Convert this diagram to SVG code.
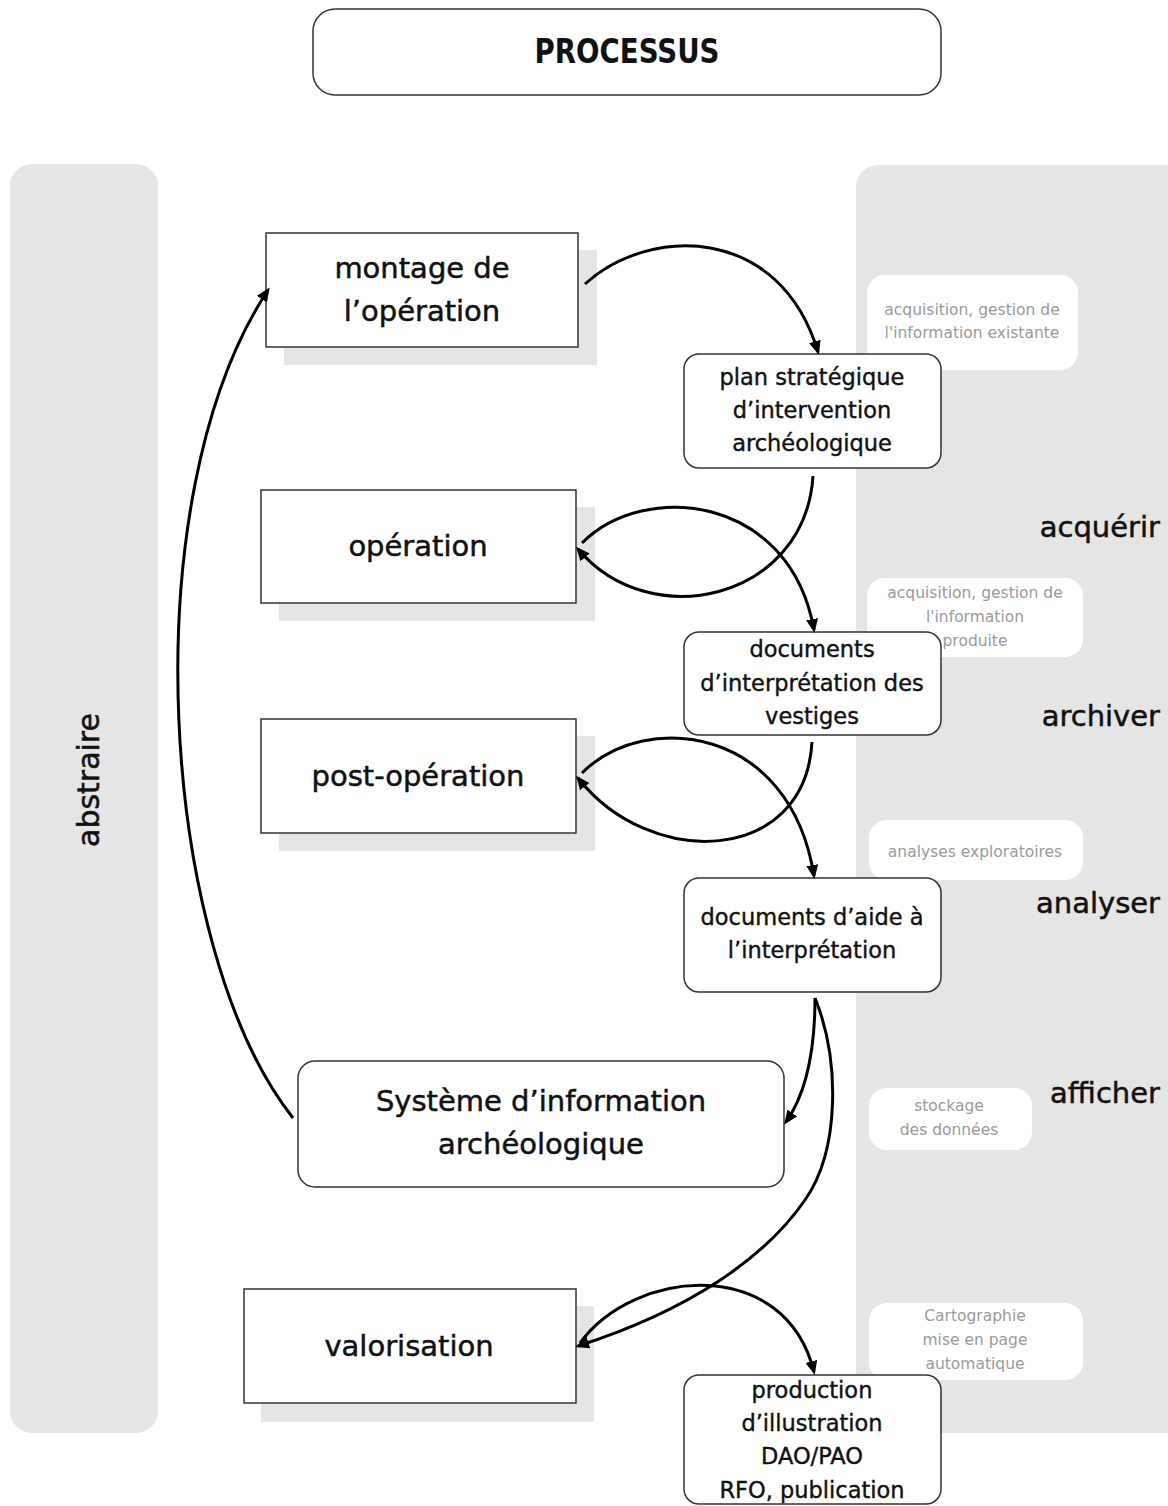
<svg xmlns="http://www.w3.org/2000/svg" width="1168" height="1506" viewBox="0 0 1168 1506">
<style>
text{font-family:"DejaVu Sans","Liberation Sans",sans-serif;fill:#111;}
.panel{fill:#e5e5e5;}
.shadow{fill:#e5e5e5;}
.sq{fill:#fff;stroke:#333;stroke-width:1.5;}
.rd{fill:#fff;stroke:#333;stroke-width:1.5;}
.wb{fill:#fff;}
.big{font-size:29px;text-anchor:middle;stroke:#111;stroke-width:0.5;}
.mid{font-size:22.5px;text-anchor:middle;stroke:#111;stroke-width:0.4;}
.lab{font-size:29px;text-anchor:end;stroke:#111;stroke-width:0.5;}
.sm{font-size:15.5px;text-anchor:middle;fill:#9a9a9a;}
.conn path{fill:none;stroke:#000;stroke-width:3;marker-end:url(#ah);}
</style>
<defs>
<marker id="ah" markerWidth="15" markerHeight="12" refX="11" refY="6" orient="auto" markerUnits="userSpaceOnUse">
<path d="M0,0 L14,6 L0,12 Z" fill="#000"/>
</marker>
</defs>
<rect width="1168" height="1506" fill="#fff"/>

<g id="title">
<rect x="313" y="9" width="628" height="86" rx="22" fill="#fff" stroke="#333" stroke-width="1.5"/>
<text x="627" y="63" font-size="33" font-weight="bold" text-anchor="middle" textLength="185" lengthAdjust="spacingAndGlyphs">PROCESSUS</text>
</g>

<g id="abstraire">
<rect class="panel" x="10" y="164" width="148" height="1269" rx="22"/>
<text transform="translate(99,780) rotate(-90)" font-size="30" text-anchor="middle" stroke="#111" stroke-width="0.5">abstraire</text>
</g>

<g id="rightpanel">
<rect class="panel" x="856" y="165" width="330" height="1268" rx="22"/>
<text class="lab" x="1160" y="537">acquérir</text>
<text class="lab" x="1160" y="726">archiver</text>
<text class="lab" x="1160" y="913">analyser</text>
<text class="lab" x="1160" y="1103">afficher</text>
</g>

<g id="note-existante">
<rect class="wb" x="867" y="275" width="211" height="95" rx="18"/>
<text class="sm" x="972" y="315">acquisition, gestion de</text>
<text class="sm" x="972" y="338">l'information existante</text>
</g>
<g id="note-produite">
<rect class="wb" x="867" y="578" width="216" height="79" rx="18"/>
<text class="sm" x="975" y="598">acquisition, gestion de</text>
<text class="sm" x="975" y="622">l'information</text>
<text class="sm" x="975" y="646">produite</text>
</g>
<g id="note-analyses">
<rect class="wb" x="869" y="820" width="214" height="60" rx="18"/>
<text class="sm" x="975" y="857">analyses exploratoires</text>
</g>
<g id="note-stockage">
<rect class="wb" x="869" y="1088" width="163" height="62" rx="18"/>
<text class="sm" x="949" y="1111">stockage</text>
<text class="sm" x="949" y="1135">des données</text>
</g>
<g id="note-cartographie">
<rect class="wb" x="869" y="1303" width="214" height="77" rx="18"/>
<text class="sm" x="975" y="1321">Cartographie</text>
<text class="sm" x="975" y="1345">mise en page</text>
<text class="sm" x="975" y="1369">automatique</text>
</g>

<g id="montage">
<rect class="shadow" x="284" y="250" width="313" height="115"/>
<rect class="sq" x="266" y="233" width="312" height="114"/>
<text class="big" x="422" y="278" font-size="30">montage de</text>
<text class="big" x="422" y="321" font-size="30">l’opération</text>
</g>
<g id="operation">
<rect class="shadow" x="279" y="507" width="316" height="114"/>
<rect class="sq" x="261" y="490" width="315" height="113"/>
<text class="big" x="418" y="556">opération</text>
</g>
<g id="postoperation">
<rect class="shadow" x="279" y="736" width="316" height="115"/>
<rect class="sq" x="261" y="719" width="315" height="114"/>
<text class="big" x="418" y="786">post-opération</text>
</g>
<g id="valorisation">
<rect class="shadow" x="261" y="1306" width="333" height="116"/>
<rect class="sq" x="244" y="1289" width="332" height="114"/>
<text class="big" x="409" y="1356">valorisation</text>
</g>

<g id="plan">
<rect class="rd" x="684" y="354" width="257" height="114" rx="15"/>
<text class="mid" x="812" y="385">plan stratégique</text>
<text class="mid" x="812" y="418">d’intervention</text>
<text class="mid" x="812" y="451">archéologique</text>
</g>
<g id="documents">
<rect class="rd" x="684" y="632" width="257" height="103" rx="15"/>
<text class="mid" x="812" y="657">documents</text>
<text class="mid" x="812" y="691">d’interprétation des</text>
<text class="mid" x="812" y="724">vestiges</text>
</g>
<g id="aide">
<rect class="rd" x="684" y="878" width="257" height="114" rx="15"/>
<text class="mid" x="812" y="925">documents d’aide à</text>
<text class="mid" x="812" y="958">l’interprétation</text>
</g>
<g id="systeme">
<rect class="rd" x="298" y="1061" width="486" height="126" rx="17"/>
<text class="big" x="541" y="1111">Système d’information</text>
<text class="big" x="541" y="1154">archéologique</text>
</g>
<g id="production">
<rect class="rd" x="684" y="1375" width="257" height="129" rx="15"/>
<text class="mid" x="812" y="1398">production</text>
<text class="mid" x="812" y="1431">d’illustration</text>
<text class="mid" x="812" y="1464">DAO/PAO</text>
<text class="mid" x="812" y="1498">RFO, publication</text>
</g>

<g id="connectors" class="conn">
<path d="M585,284 C650,225 780,225 818,352"/>
<path d="M813,476 C805,600 650,635 578,549"/>
<path d="M582,543 C645,480 790,495 814,630"/>
<path d="M812,742 C805,865 650,870 578,778"/>
<path d="M582,773 C645,710 790,725 814,876"/>
<path d="M815,998 C815,1055 805,1095 786,1122"/>
<path d="M815,998 C840,1060 840,1150 805,1200 C765,1258 690,1310 578,1346"/>
<path d="M580,1343 C635,1268 785,1255 814,1372"/>
<path d="M293,1118 C160,950 130,500 268,290"/>
</g>
</svg>
